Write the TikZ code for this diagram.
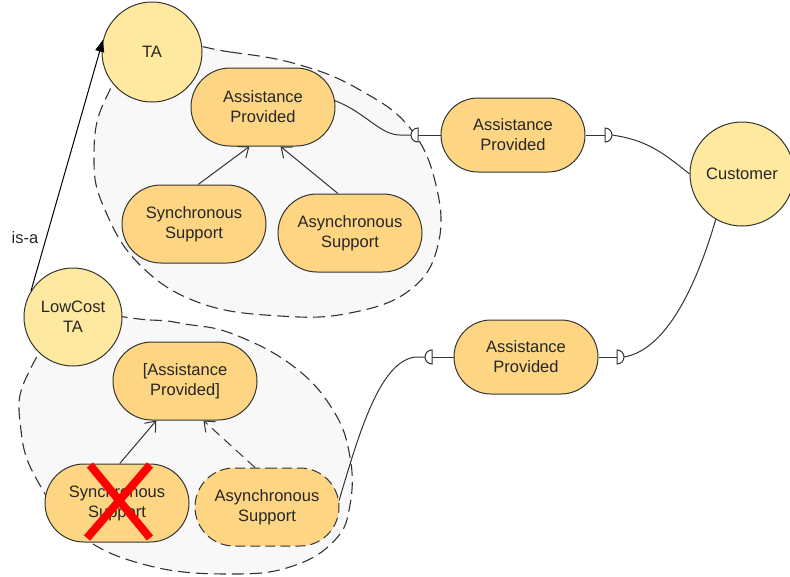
\documentclass[tikz,border=0pt]{standalone}
\usepackage{fontspec}
\setmainfont{Liberation Sans}
\usetikzlibrary{shapes.misc,arrows.meta}
\definecolor{stadfill}{HTML}{FDD583}
\definecolor{circfill}{HTML}{FFE9A0}
\definecolor{blobfill}{HTML}{F8F8F8}
\definecolor{linec}{HTML}{333333}
\definecolor{textc}{HTML}{262626}
\newcommand\dfont{\fontsize{16.5}{20}\selectfont}
\begin{document}
\begin{tikzpicture}[x=1pt,y=-1pt,
 stad/.style={rounded rectangle, draw=linec, fill=stadfill, minimum width=146pt, minimum height=78pt, align=center, inner sep=1pt, font=\dfont, text=textc, line width=1pt},
 circ/.style={circle, draw=linec, fill=circfill, inner sep=0pt, align=center, font=\dfont, text=textc, line width=1pt},
 blob/.style={draw=linec, fill=blobfill, dash pattern=on 12pt off 6pt, line width=1.1pt},
 conn/.style={draw=linec, line width=1pt},
 gen/.style={conn, -{Straight Barb[length=5pt,width=8pt,line width=1pt,scale=1.8]}},
 sock/.style={draw=linec, fill=white, line width=1pt},
]
\useasboundingbox (0,0) rectangle (790,576);
% blobs
\path[blob] plot[smooth cycle, tension=0.7] coordinates {(150,45) (230,52) (300,65) (360,90) (410,128) (436,185) (438,245) (410,290) (350,313) (280,316) (200,303) (140,265) (105,210) (94,160) (105,100)};
\path[blob] plot[smooth cycle, tension=0.7] coordinates {(73,320) (150,320) (185,324) (233,334) (293,366) (333,410) (350,457) (350,505) (335,540) (293,566) (233,574) (150,566) (80,535) (37,480) (21,430) (26,378)};
% nodes
\node[circ, minimum size=100pt] (ta) at (152,52) {TA};
\node[circ, minimum size=98pt] (low) at (73,317) {LowCost\\TA};
\node[circ, minimum size=104pt] (cust) at (742,174) {Customer};
\node[stad] (ap1) at (263,107) {Assistance\\Provided};
\node[stad] (sync1) at (194,224) {Synchronous\\Support};
\node[stad] (async1) at (350,233) {Asynchronous\\Support};
\node[stad, minimum height=74pt] (rap1) at (513,135) {Assistance\\Provided};
\node[stad, minimum height=74pt] (rap2) at (526,357) {Assistance\\Provided};
\node[stad] (ap3) at (185,381) {[Assistance\\Provided]};
\node[stad] (sync2) at (117,503) {Synchronous\\Support};
\node[stad, dash pattern=on 10pt off 5pt] (async2) at (267,507) {Asynchronous\\Support};
\node[font=\dfont, text=textc] (isa) at (25,238) {is-a};
% socket points
\coordinate (s1a) at (411,135); \coordinate (s1b) at (418,135);
\coordinate (s2b) at (605,135); \coordinate (s2a) at (612,135);
\coordinate (s3a) at (425,357); \coordinate (s3b) at (432,357);
\coordinate (s4b) at (617,357); \coordinate (s4a) at (624,357);
% is-a
\draw[conn, -{Triangle[length=12pt,width=9pt]}, black] (low.148) -- (ta.166);
% generalizations
\draw[gen] (sync1.84) -- (ap1.251);
\draw[gen] (async1.107) -- (ap1.294);
\draw[gen] (sync2.86) -- (ap3.234);
\draw[gen, dash pattern=on 10pt off 6pt] (async2.107) -- (ap3.295);
% connectors with sockets
\draw[conn] (ap1.5) .. controls (365,112) and (380,135) .. (400,135) -- (s1a);
\draw[conn] (s1b) -- (rap1.west);
\draw[conn] (rap1.east) -- (s2b);
\draw[conn] (s2a) .. controls (645,140) and (660,150) .. (cust.west);
\draw[conn] (async2.5) .. controls (360,430) and (380,362) .. (415,357) -- (s3a);
\draw[conn] (s3b) -- (rap2.west);
\draw[conn] (rap2.east) -- (s4b);
\draw[conn] (s4a) .. controls (665,350) and (695,290) .. (cust.240);
% sockets
\draw[sock] (418,128) arc[start angle=270,end angle=90,radius=7] -- cycle;
\draw[sock] (605,128) arc[start angle=-90,end angle=90,radius=7] -- cycle;
\draw[sock] (432,350) arc[start angle=270,end angle=90,radius=7] -- cycle;
\draw[sock] (617,350) arc[start angle=-90,end angle=90,radius=7] -- cycle;
% red cross
\draw[red, line width=8pt] (90,465) -- (150,538) (150,465) -- (87,538);
\end{tikzpicture}
\end{document}
